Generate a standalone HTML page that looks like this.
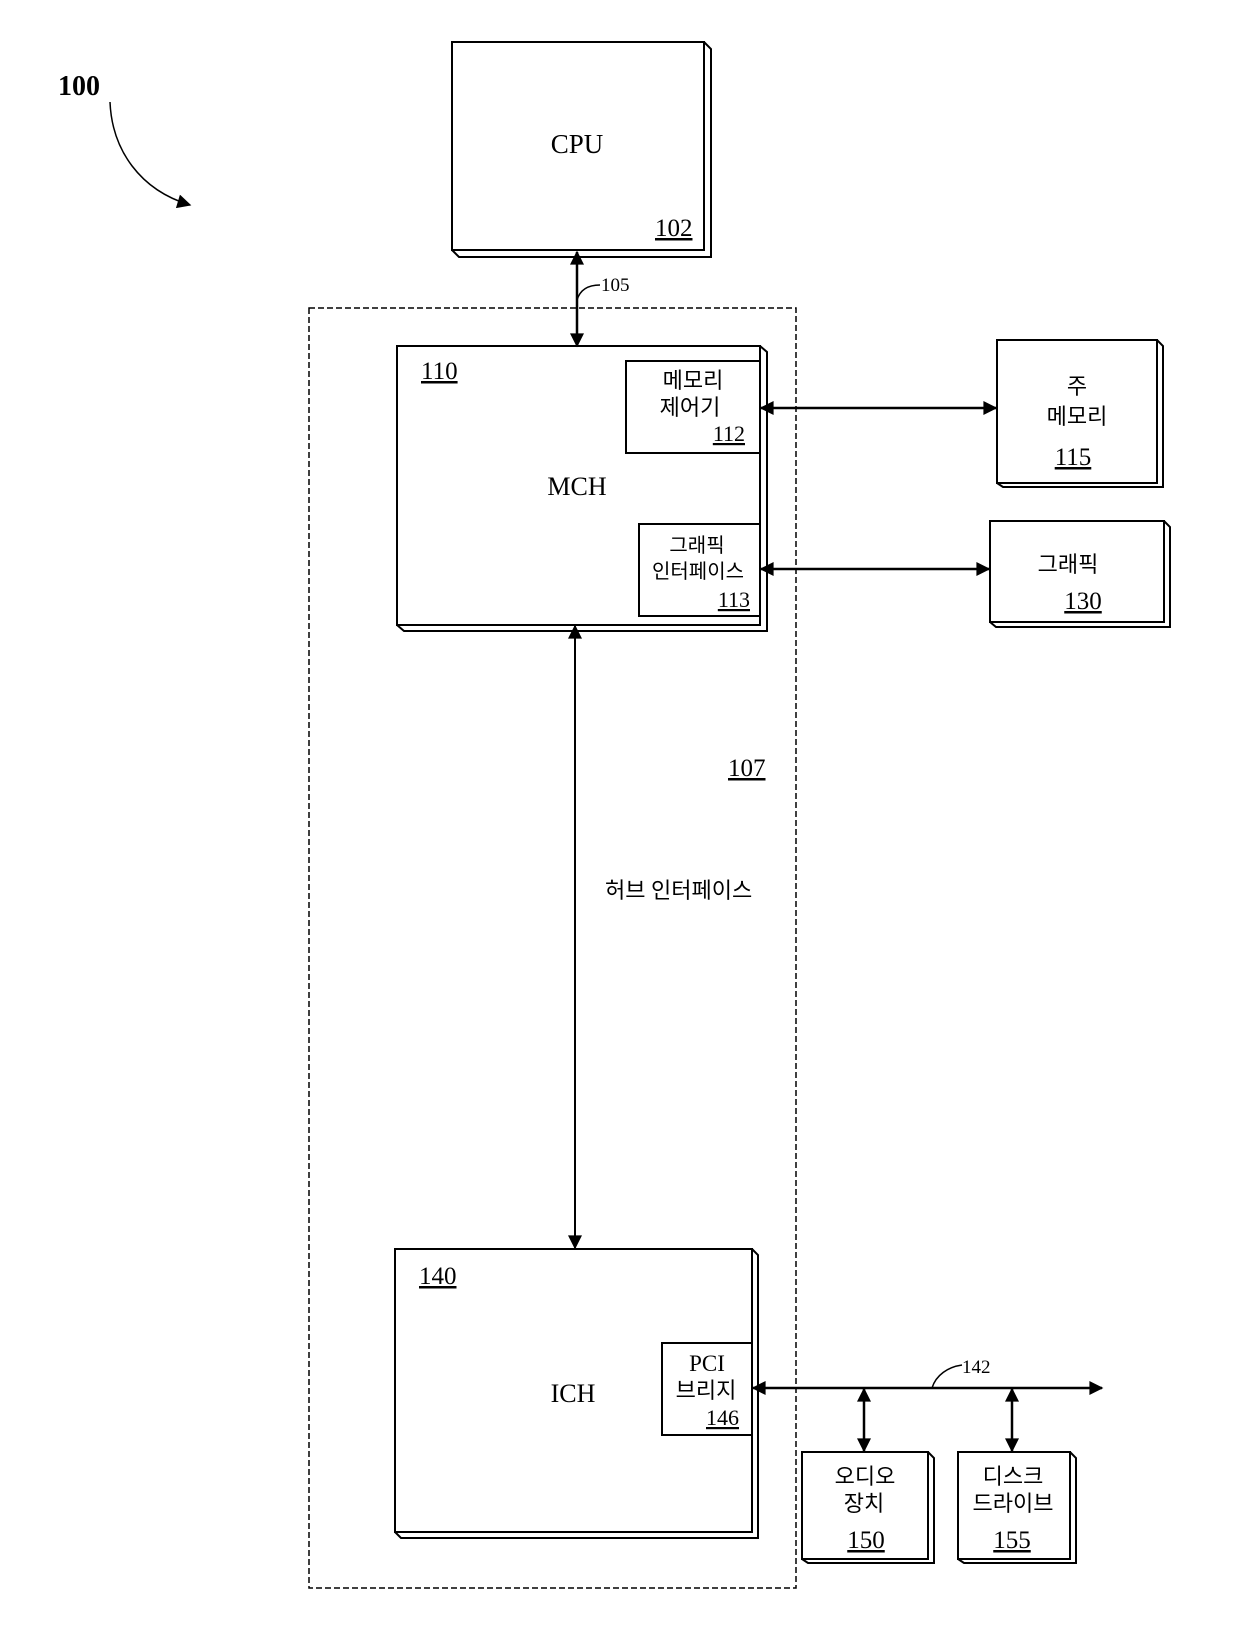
<!DOCTYPE html>
<html><head><meta charset="utf-8"><style>
html,body{margin:0;padding:0;background:#fff}
svg{display:block}
text{font-family:"Liberation Serif","Noto Serif CJK SC","Noto Sans CJK KR",serif;fill:#000}
.k{font-family:"Liberation Serif","Noto Sans CJK KR","NanumGothic",sans-serif}
</style></head><body>
<svg width="1240" height="1649" viewBox="0 0 1240 1649" xmlns="http://www.w3.org/2000/svg">
<defs>
<marker id="a" viewBox="0 0 10 10" refX="9" refY="5" markerWidth="9" markerHeight="9" orient="auto-start-reverse" markerUnits="userSpaceOnUse"><path d="M0,0 L10,5 L0,10 Z" fill="#000"/></marker>
<marker id="b" viewBox="0 0 10 10" refX="9" refY="5" markerWidth="18" markerHeight="14" orient="auto-start-reverse" markerUnits="userSpaceOnUse"><path d="M0,0 L10,5 L0,10 Z" fill="#000"/></marker>
</defs>
<g fill="none" stroke="#000" stroke-width="2">
<!-- 100 arc -->
<path d="M110,102 C112,150 140,190 190,205" stroke-width="1.5" marker-end="url(#b)"/>
<!-- CPU -->
<path d="M704,42 L711,49 L711,257 L459,257 L452,250" stroke-width="2"/>
<rect x="452" y="42" width="252" height="208"/>
<!-- dashed region -->
<rect x="309" y="308" width="487" height="1280" stroke-dasharray="6,3" stroke-width="1.5"/>
<!-- MCH -->
<path d="M760,346 L767,352 L767,631 L404,631 L397,625"/>
<rect x="397" y="346" width="363" height="279"/>
<rect x="626" y="361" width="134" height="92"/>
<rect x="639" y="524" width="121" height="92"/>
<!-- main memory -->
<path d="M1157,340 L1163,346 L1163,487 L1003,487 L997,483"/>
<rect x="997" y="340" width="160" height="143"/>
<!-- graphics -->
<path d="M1164,521 L1170,527 L1170,627 L996,627 L990,622"/>
<rect x="990" y="521" width="174" height="101"/>
<!-- ICH -->
<path d="M752,1249 L758,1255 L758,1538 L401,1538 L395,1532"/>
<rect x="395" y="1249" width="357" height="283"/>
<rect x="662" y="1343" width="90" height="92"/>
<!-- audio -->
<path d="M928,1452 L934,1458 L934,1563 L808,1563 L802,1559"/>
<rect x="802" y="1452" width="126" height="107"/>
<!-- disk -->
<path d="M1070,1452 L1076,1458 L1076,1563 L964,1563 L958,1559"/>
<rect x="958" y="1452" width="112" height="107"/>
<!-- connectors -->
<line x1="577" y1="252" x2="577" y2="346" marker-start="url(#b)" marker-end="url(#b)" stroke-width="2.5"/>
<path d="M577,300 C580,290 588,285 600,285" stroke-width="1.5"/>
<line x1="761" y1="408" x2="996" y2="408" marker-start="url(#b)" marker-end="url(#b)" stroke-width="2.5"/>
<line x1="761" y1="569" x2="989" y2="569" marker-start="url(#b)" marker-end="url(#b)" stroke-width="2.5"/>
<line x1="575" y1="626" x2="575" y2="1248" marker-start="url(#b)" marker-end="url(#b)" stroke-width="2"/>
<line x1="753" y1="1388" x2="1102" y2="1388" marker-start="url(#b)" marker-end="url(#b)" stroke-width="2.5"/>
<line x1="864" y1="1389" x2="864" y2="1451" marker-start="url(#b)" marker-end="url(#b)" stroke-width="2.5"/>
<line x1="1012" y1="1389" x2="1012" y2="1451" marker-start="url(#b)" marker-end="url(#b)" stroke-width="2.5"/>
<path d="M932,1388 C936,1375 948,1367 962,1365" stroke-width="1.5"/>
</g>
<text x="58" y="95" font-size="28" font-weight="bold">100</text>
<text x="577" y="153" font-size="27" text-anchor="middle">CPU</text>
<text x="655" y="236" font-size="25" text-decoration="underline">102</text>
<text x="601" y="291" font-size="19">105</text>
<text x="421" y="379" font-size="25" text-decoration="underline">110</text>
<text x="693" y="388" font-size="22" text-anchor="middle" class="k">메모리</text>
<text x="690" y="415" font-size="22" text-anchor="middle" class="k">제어기</text>
<text x="745" y="441" font-size="22" text-anchor="end" text-decoration="underline">112</text>
<text x="577" y="495" font-size="26" text-anchor="middle">MCH</text>
<text x="697" y="552" font-size="20" text-anchor="middle" class="k">그래픽</text>
<text x="698" y="578" font-size="20" text-anchor="middle" class="k">인터페이스</text>
<text x="750" y="607" font-size="22" text-anchor="end" text-decoration="underline">113</text>
<text x="1077" y="394" font-size="22" text-anchor="middle" class="k">주</text>
<text x="1077" y="424" font-size="22" text-anchor="middle" class="k">메모리</text>
<text x="1073" y="465" font-size="25" text-anchor="middle" text-decoration="underline">115</text>
<text x="1068" y="572" font-size="22" text-anchor="middle" class="k">그래픽</text>
<text x="1083" y="609" font-size="25" text-anchor="middle" text-decoration="underline">130</text>
<text x="728" y="776" font-size="25" text-decoration="underline">107</text>
<text x="605" y="898" font-size="22" class="k">허브 인터페이스</text>
<text x="419" y="1284" font-size="25" text-decoration="underline">140</text>
<text x="573" y="1402" font-size="26" text-anchor="middle">ICH</text>
<text x="707" y="1371" font-size="23" text-anchor="middle">PCI</text>
<text x="706" y="1398" font-size="22" text-anchor="middle" class="k">브리지</text>
<text x="739" y="1425" font-size="22" text-anchor="end" text-decoration="underline">146</text>
<text x="962" y="1373" font-size="19">142</text>
<text x="865" y="1484" font-size="22" text-anchor="middle" class="k">오디오</text>
<text x="864" y="1511" font-size="22" text-anchor="middle" class="k">장치</text>
<text x="866" y="1548" font-size="25" text-anchor="middle" text-decoration="underline">150</text>
<text x="1013" y="1484" font-size="22" text-anchor="middle" class="k">디스크</text>
<text x="1013" y="1511" font-size="22" text-anchor="middle" class="k">드라이브</text>
<text x="1012" y="1548" font-size="25" text-anchor="middle" text-decoration="underline">155</text>
</svg>
</body></html>
